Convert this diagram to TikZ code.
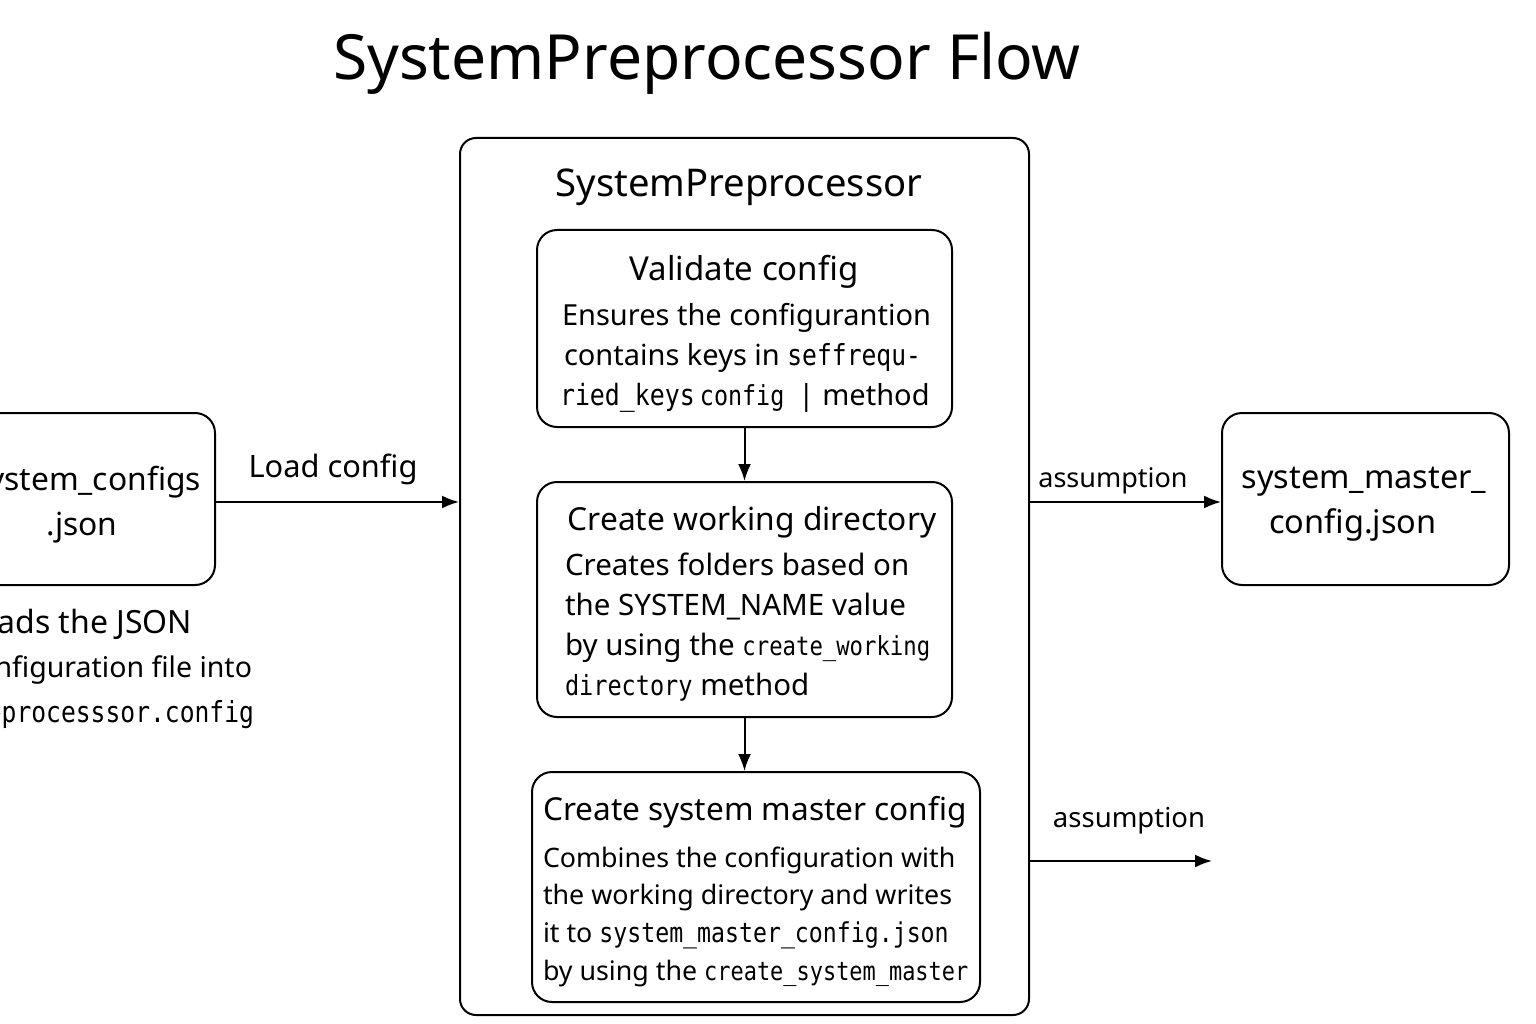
\documentclass[tikz,border=0pt]{standalone}
\usepackage{fontspec}
\setmainfont{Noto Sans}
\newfontfamily\monof[FakeStretch=0.85]{DejaVu Sans Mono}
\newcommand\mt[2]{{\monof\fontsize{#1}{#1}\selectfont #2}}
\newcommand\fs[1]{\fontsize{#1}{#1}\selectfont}
\usetikzlibrary{arrows.meta}
\begin{document}
\begin{tikzpicture}[x=1pt,y=-1pt,line width=2pt,
  box/.style={draw=black,rounded corners=20pt,inner sep=0pt},
  arr/.style={draw=black,line width=2pt,-{Latex[length=17pt,width=13pt]}},
  txt/.style={inner sep=0pt},
  bod/.style={inner sep=0pt,anchor=base west}]
\useasboundingbox (0,0) rectangle (1536,1024);
\clip (0,0) rectangle (1536,1024);
\fill[white] (0,0) rectangle (1536,1024);

% title
\node[txt,anchor=base,font=\fs{62.3}] (title) at (707,80) {SystemPreprocessor Flow};

% boxes
\node[box,minimum width=569pt,minimum height=877pt,rounded corners=16pt] (outer) at (744.5,576.5) {};
\node[txt,anchor=base,font=\fs{38.2}] (outerlbl) at (739,197) {SystemPreprocessor};

\node[box,minimum width=415pt,minimum height=197pt] (val) at (744.5,328.5) {};
\node[box,minimum width=415pt,minimum height=235pt] (work) at (744.5,599.5) {};
\node[box,minimum width=448pt,minimum height=230pt] (mast) at (756,887) {};
\node[box,minimum width=266pt,minimum height=172pt] (src) at (82,499) {};
\node[box,minimum width=287pt,minimum height=172pt] (dst) at (1365.5,499) {};

% validate config
\node[txt,anchor=base,font=\fs{33}] (valt) at (744,280) {Validate config};
\node[bod,font=\fs{29}] (v1) at (561,325) {Ensures the configurantion};
\node[bod,font=\fs{29}] (v2) at (563,365) {contains keys in \mt{29}{seffrequ-}};
\node[bod,font=\fs{29}] (v3) at (559,405) {\mt{29.3}{ried\_keys}\hspace{5pt}\mt{27.5}{config}\hspace{14pt}|\hspace{8pt}method};

% create working directory
\node[txt,anchor=base,font=\fs{31.7}] (workt) at (752,530) {Create working directory};
\node[bod,font=\fs{29.5}] (w1) at (564,575) {Creates folders based on};
\node[bod,font=\fs{29.5}] (w2) at (564,615) {the SYSTEM\_NAME value};
\node[bod,font=\fs{29.5}] (w3) at (564,655) {by using the \mt{26.2}{create\_working}};
\node[bod,font=\fs{29.5}] (w4) at (564,695) {\mt{27.7}{directory} method};

% create system master config
\node[txt,anchor=base,font=\fs{31.6}] (mastt) at (755,820) {Create system master config};
\node[bod,font=\fs{26.8}] (m1) at (542,867) {Combines the configuration with};
\node[bod,font=\fs{26.8}] (m2) at (542,904) {the working directory and writes};
\node[bod,font=\fs{26.8}] (m3) at (542,942) {it to \mt{27.3}{system\_master\_config.json}};
\node[bod,font=\fs{26.8}] (m4) at (542,980) {by using the \mt{25.8}{create\_system\_master}};

% source file
\node[txt,anchor=base,font=\fs{31.8}] (src1) at (87,490) {system\_configs};
\node[txt,anchor=base,font=\fs{31.8}] (src2) at (82,535) {.json};
\node[txt,anchor=base east,font=\fs{32}] (s1) at (193,633) {Loads the JSON};
\node[txt,anchor=base east,font=\fs{28.5}] (s2) at (253,677) {configuration file into};
\node[txt,anchor=base east] (s3) at (255,722) {\mt{29}{SystemPreprocesssor.config}};

% destination file
\node[txt,anchor=base,font=\fs{32.5}] (dst1) at (1364,488) {system\_master\_};
\node[txt,anchor=base,font=\fs{32.5}] (dst2) at (1353,533) {config.json};

% connectors
\draw[arr] ([yshift=-3pt]src.east) -- ([yshift=-3pt]src.east -| outer.west);
\node[txt,anchor=base,font=\fs{30.8}] (loadlbl) at (333,477) {Load config};
\draw[arr] (val.south) -- (work.north);
\draw[arr] (work.south) -- (work.south |- mast.north);
\draw[arr] ([yshift=-3pt]outer.east |- dst.west) -- ([yshift=-3pt]dst.west);
\node[txt,anchor=base,font=\fs{27}] (as1) at (1113,487) {assumption};
\coordinate (a2end) at (1212,861);
\draw[arr] (outer.east |- a2end) -- (a2end);
\node[txt,anchor=base,font=\fs{27.5}] (as2) at (1129,827) {assumption};
\end{tikzpicture}
\end{document}
